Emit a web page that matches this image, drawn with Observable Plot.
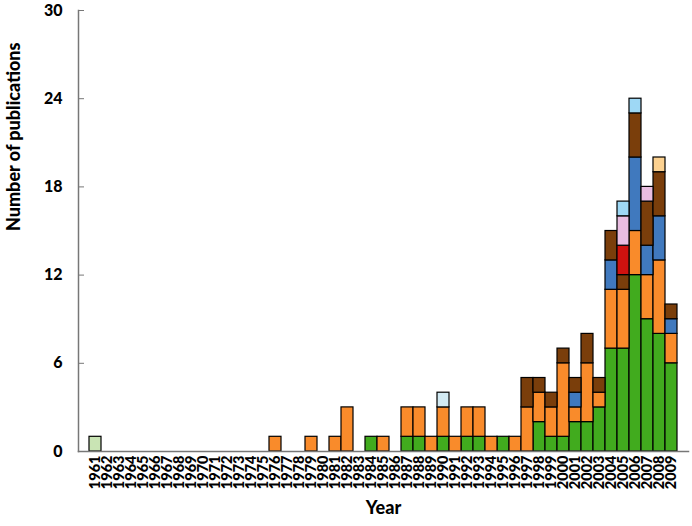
<!DOCTYPE html>
<html>
<head>
<meta charset="utf-8">
<script src="https://cdn.jsdelivr.net/npm/d3@7"></script>
<script src="https://cdn.jsdelivr.net/npm/@observablehq/plot@0.6"></script>
<style>
  html, body { margin: 0; padding: 0; background: #fff; }
</style>
</head>
<body>
<div id="chart"></div>
<script>
const years = [
  "1961","1962","1963","1964","1965","1966","1967","1968","1969","1970",
  "1971","1972","1973","1974","1975","1976","1977","1978","1979","1980",
  "1981","1982","1983","1984","1985","1986","1987","1988","1989","1990",
  "1991","1992","1993","1994","1995","1996","1997","1998","1999","2000",
  "2001","2002","2003","2004","2005","2006","2007","2008","2009"
];

const yTicks = [0, 6, 12, 18, 24, 30];

// Series values per year (1961..2009), stacked bottom to top in this order
const seriesA = [ // pale green
  1,0,0,0,0,0,0,0,0,0,
  0,0,0,0,0,0,0,0,0,0,
  0,0,0,0,0,0,0,0,0,0,
  0,0,0,0,0,0,0,0,0,0,
  0,0,0,0,0,0,0,0,0
];
const seriesB = [ // green
  0,0,0,0,0,0,0,0,0,0,
  0,0,0,0,0,0,0,0,0,0,
  0,0,0,1,0,0,1,1,0,1,
  0,1,1,0,1,0,0,2,1,1,
  2,2,3,7,7,12,9,8,6
];
const seriesC = [ // orange
  0,0,0,0,0,0,0,0,0,0,
  0,0,0,0,0,1,0,0,1,0,
  1,3,0,0,1,0,2,2,1,2,
  1,2,2,1,0,1,3,2,2,5,
  1,4,1,4,4,3,3,5,2
];
const seriesD = [ // blue
  0,0,0,0,0,0,0,0,0,0,
  0,0,0,0,0,0,0,0,0,0,
  0,0,0,0,0,0,0,0,0,0,
  0,0,0,0,0,0,0,0,0,0,
  1,0,0,2,0,5,2,3,1
];
const seriesE = [ // brown
  0,0,0,0,0,0,0,0,0,0,
  0,0,0,0,0,0,0,0,0,0,
  0,0,0,0,0,0,0,0,0,0,
  0,0,0,0,0,0,2,1,1,1,
  1,2,1,2,1,3,3,3,1
];
const seriesF = [ // red
  0,0,0,0,0,0,0,0,0,0,
  0,0,0,0,0,0,0,0,0,0,
  0,0,0,0,0,0,0,0,0,0,
  0,0,0,0,0,0,0,0,0,0,
  0,0,0,0,2,0,0,0,0
];
const seriesG = [ // pink
  0,0,0,0,0,0,0,0,0,0,
  0,0,0,0,0,0,0,0,0,0,
  0,0,0,0,0,0,0,0,0,0,
  0,0,0,0,0,0,0,0,0,0,
  0,0,0,0,2,0,1,0,0
];
const seriesH = [ // light blue
  0,0,0,0,0,0,0,0,0,0,
  0,0,0,0,0,0,0,0,0,0,
  0,0,0,0,0,0,0,0,0,0,
  0,0,0,0,0,0,0,0,0,0,
  0,0,0,0,1,1,0,0,0
];
const seriesI = [ // pale blue
  0,0,0,0,0,0,0,0,0,0,
  0,0,0,0,0,0,0,0,0,0,
  0,0,0,0,0,0,0,0,0,1,
  0,0,0,0,0,0,0,0,0,0,
  0,0,0,0,0,0,0,0,0
];
const seriesJ = [ // peach
  0,0,0,0,0,0,0,0,0,0,
  0,0,0,0,0,0,0,0,0,0,
  0,0,0,0,0,0,0,0,0,0,
  0,0,0,0,0,0,0,0,0,0,
  0,0,0,0,0,0,0,1,0
];

const seriesNames = ["A","B","C","D","E","F","G","H","I","J"];
const seriesValues = [seriesA, seriesB, seriesC, seriesD, seriesE, seriesF, seriesG, seriesH, seriesI, seriesJ];
const seriesColors = ["#c9e4b4","#41ab1e","#f98b2b","#4079be","#7a3e0b","#d0120f","#e9bde1","#9ed8f5","#d2eaf3","#fcd190"];

const data = [];
seriesNames.forEach((name, s) => {
  seriesValues[s].forEach((v, i) => {
    if (v > 0) data.push({year: years[i], series: name, value: v});
  });
});

const chart = Plot.plot({
  width: 692,
  height: 526,
  marginLeft: 78,
  marginRight: 4,
  marginTop: 10,
  marginBottom: 75,
  style: {fontFamily: "Lato, 'Open Sans', sans-serif", fontWeight: "bold", color: "#000", background: "#fff", overflow: "visible"},
  x: {domain: years, padding: 0, label: null},
  y: {domain: [0, 30], label: null},
  color: {domain: seriesNames, range: seriesColors},
  marks: [
    Plot.barY(data, {x: "year", y: "value", fill: "series", stroke: "#000", strokeWidth: 1.2}),
    Plot.axisY({ticks: yTicks, tickSize: -6, tickPadding: 22, fontSize: 16, fontWeight: 900, stroke: "#777", label: null}),
    Plot.axisX({tickRotate: -90, tickSize: 0, tickPadding: 4, fontSize: 14.5, fontWeight: 900, label: null}),
    Plot.frame({anchor: "left", stroke: "#777", strokeWidth: 1.5}),
    Plot.frame({anchor: "bottom", stroke: "#777", strokeWidth: 1.5}),
    Plot.text(["Number of publications"], {frameAnchor: "left", dx: -64, rotate: -90, fontSize: 18, fontWeight: 900}),
    Plot.text(["Year"], {frameAnchor: "bottom", dy: 62, fontSize: 18, fontWeight: 900})
  ]
});
document.getElementById("chart").appendChild(chart);
</script>
</body>
</html>
